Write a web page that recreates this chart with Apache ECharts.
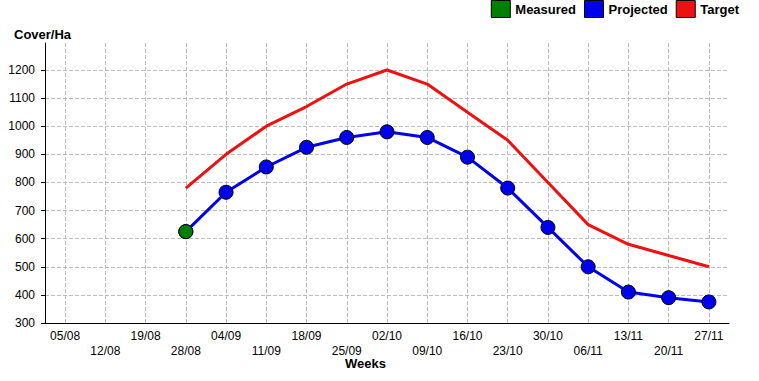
<!DOCTYPE html>
<html>
<head>
<meta charset="utf-8">
<script src="https://cdn.jsdelivr.net/npm/echarts@6/dist/echarts.min.js"></script>
<style>html,body{margin:0;padding:0;background:#fff;}#c{width:759px;height:381px;}</style>
</head>
<body>
<div id="c"></div>
<script>
const weeks = ['05/08','12/08','19/08','28/08','04/09','11/09','18/09','25/09','02/10','09/10','16/10','23/10','30/10','06/11','13/11','20/11','27/11'];
const measured = [null,null,null,625,null,null,null,null,null,null,null,null,null,null,null,null,null];
const projected = [null,null,null,625,765,855,925,960,980,960,890,780,640,500,410,390,375];
const target = [null,null,null,780,900,1000,1070,1150,1200,1150,1050,950,800,650,580,540,500];

const FONT = '"Liberation Sans", Arial, sans-serif';
const chart = echarts.init(document.getElementById('c'), null, {renderer: 'svg'});
chart.setOption({
  animation: false,
  backgroundColor: '#fff',
  textStyle: {fontFamily: FONT},
  title: [
    {text: 'Cover/Ha', left: 14, top: 28, padding: 0, textStyle: {fontSize: 13, fontWeight: 'bold', color: '#000', fontFamily: FONT}},
    {text: 'Weeks', left: 345, top: 357, padding: 0, textStyle: {fontSize: 13, fontWeight: 'bold', color: '#000', fontFamily: FONT}}
  ],
  legend: {
    right: 20, top: 0, padding: 0,
    icon: 'rect', itemWidth: 19, itemHeight: 17, itemGap: 8,
    textStyle: {fontSize: 13, fontWeight: 'bold', color: '#000', fontFamily: FONT},
    itemStyle: {borderColor: '#000', borderWidth: 1},
    data: ['Measured', 'Projected', 'Target']
  },
  grid: {left: 45, right: 30, top: 43, bottom: 58},
  xAxis: {
    type: 'category',
    data: weeks,
    boundaryGap: true,
    axisLine: {lineStyle: {color: '#000', width: 1}},
    axisTick: {alignWithLabel: true, length: 5, lineStyle: {color: '#000'}},
    axisLabel: {
      interval: 0, color: '#000', fontSize: 12, fontFamily: FONT, margin: 5, lineHeight: 15,
      formatter: function (v, i) { return i % 2 ? '\n' + v : v; }
    },
    splitLine: {show: true, alignWithLabel: true, lineStyle: {color: '#bbb', type: 'dashed', width: 1}}
  },
  yAxis: {
    type: 'value',
    min: 300, max: 1296, interval: 100,
    axisLine: {show: true, lineStyle: {color: '#000', width: 1}},
    axisTick: {show: true, length: 4, lineStyle: {color: '#000'}},
    axisLabel: {color: '#000', fontSize: 12, fontFamily: FONT, margin: 10, showMaxLabel: false,
      formatter: function (v) { return String(v); }},
    splitLine: {show: true, showMaxLine: false, showMinLine: false, lineStyle: {color: '#bbb', type: 'dashed', width: 1}}
  },
  series: [
    {
      name: 'Target', type: 'line', data: target, color: '#ee1111',
      showSymbol: false, symbol: 'none', lineStyle: {width: 3, color: '#ee1111'}, z: 2
    },
    {
      name: 'Projected', type: 'line', data: projected, color: '#0000ee',
      symbol: 'circle', symbolSize: 14,
      itemStyle: {color: '#0000ee', borderColor: '#000', borderWidth: 1},
      lineStyle: {width: 3, color: '#0000ee'}, z: 3
    },
    {
      name: 'Measured', type: 'line', data: measured, color: '#008000',
      symbol: 'circle', symbolSize: 14, showSymbol: true,
      itemStyle: {color: '#008000', borderColor: '#000', borderWidth: 1},
      lineStyle: {width: 0}, z: 4
    }
  ]
});
</script>
</body>
</html>
